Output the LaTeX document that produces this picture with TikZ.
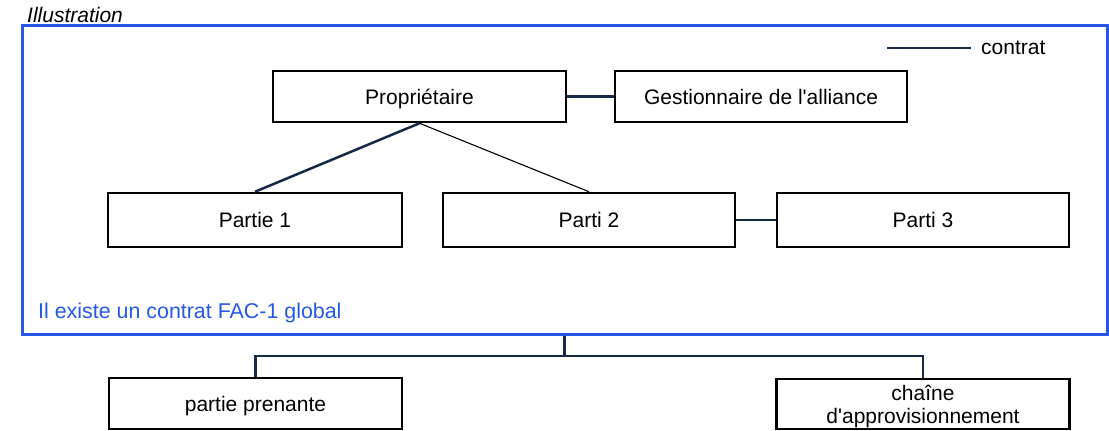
\documentclass[tikz,border=0pt]{standalone}
\usepackage{fontspec}
\setmainfont{Liberation Sans}
\definecolor{navy}{RGB}{22,42,70}
\definecolor{frameblue}{RGB}{36,88,230}
\begin{document}
\begin{tikzpicture}[x=1pt,y=-1pt,
  lbl/.style={font=\fontsize{21}{23}\selectfont, inner sep=0pt},
  box/.style={lbl, draw=black, line width=2.5pt, fill=white, align=center, text depth=0pt},
  frame/.style={draw=frameblue, line width=3pt, inner sep=0pt},
  link/.style={draw=navy, line width=2.5pt},
  thinlink/.style={draw=black, line width=1.1pt}]
\useasboundingbox (0,0) rectangle (1109,431);

% heading and alliance frame
\node[lbl, font=\itshape\fontsize{21}{23}\selectfont, anchor=base west] (title) at (27,23) {Illustration};
\node[frame, minimum width=1085pt, minimum height=309pt] (alliance) at (564.5,179.5) {};
\node[lbl, font=\fontsize{21.4}{24}\selectfont, text=frameblue, anchor=base west] (note) at (38,318) {Il existe un contrat FAC-1 global};

% legend
\coordinate (legA) at (887,48);
\coordinate (legB) at (971,48);
\draw[link] (legA) -- (legB);
\node[lbl, anchor=west] (legtxt) at (981,48) {contrat};

% parties inside the alliance
\node[box, minimum width=293pt, minimum height=51pt] (prop) at (419.5,96.5) {Propriétaire};
\node[box, minimum width=292pt, minimum height=51pt] (gest) at (761,96.5) {Gestionnaire de l\textquotesingle alliance};
\node[box, minimum width=294pt, minimum height=54pt] (p1) at (255,220) {Partie 1};
\node[box, minimum width=292pt, minimum height=54pt] (p2) at (589,220) {Parti 2};
\node[box, minimum width=292pt, minimum height=54pt] (p3) at (923,220) {Parti 3};

% parties outside the alliance
\node[box, minimum width=293pt, minimum height=51pt] (pp) at (255.5,403.5) {partie prenante};
\node[box, minimum width=293pt, minimum height=50pt] (sc) at (923,404) {chaîne\\d\textquotesingle approvisionnement};

% connectors
\draw[link] (prop.east) -- (gest.west);
\draw[link] (prop.south) -- (p1.north);
\draw[thinlink] (prop.south) -- (p2.north);
\draw[link] (p2.east) -- (p3.west);
\coordinate (fork) at (564.5,356);
\draw[link] (alliance.south) -- (fork);
\draw[link] (fork) -| (pp.north);
\draw[link] (fork) -| (sc.north);
\end{tikzpicture}
\end{document}
